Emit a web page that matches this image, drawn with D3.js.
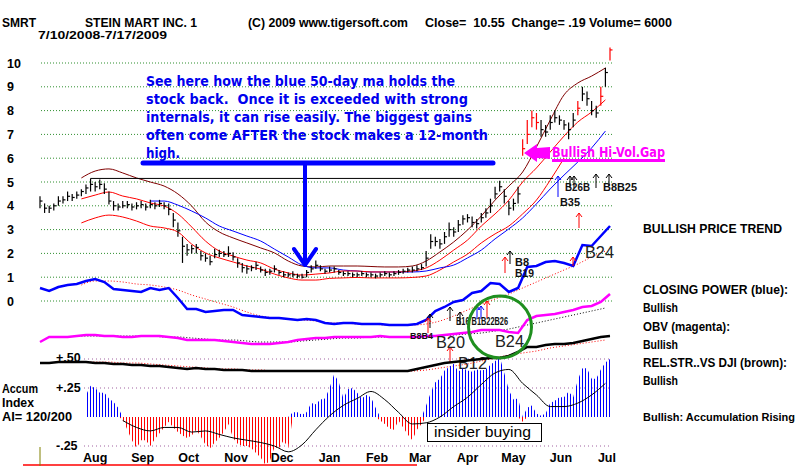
<!DOCTYPE html>
<html>
<head>
<meta charset="utf-8">
<script src="https://cdn.jsdelivr.net/npm/d3@7"></script>
<style>
  body { margin: 0; background: #fff; }
  svg { display: block; font-family: "Liberation Sans", Arial, sans-serif; }
  text { white-space: pre; }
</style>
</head>
<body>
<div id="chart"></div>
<script>
// data
const startDate = "2008-07-10";
const endDate = "2009-07-17";
const barStepDays = 3;   // price bars read every 3 days
const lineStepDays = 9;  // moving averages read every 9 days
const indStepDays = 6;   // indicator lines read every 6 days

const barClose = [4.2,3.9,3.9,4.0,4.2,4.25,4.4,4.35,4.45,4.6, 4.75,4.9,4.8,4.9,4.7,4.2,4.0,3.95,4.0,4.05,
  3.95,4.0,4.05,3.95,4.05,4.0,4.1,4.0,3.85,3.4, 2.95,2.3,2.15,2.2,2.25,1.9,1.8,1.65,1.95,2.0,
  1.95,2.0,1.85,1.6,1.4,1.35,1.4,1.5,1.3,1.2, 1.25,1.35,1.2,1.1,1.1,1.1,1.05,1.0,1.2,1.35,
  1.5,1.35,1.25,1.3,1.35,1.2,1.15,1.15,1.1,1.1, 1.15,1.1,1.1,1.05,1.1,1.15,1.1,1.15,1.2,1.25,
  1.3,1.3,1.35,1.4,1.8,2.5,2.5,2.4,2.7,3.0, 2.9,3.2,3.45,3.5,3.3,3.25,3.5,3.7,4.0,4.5,
  4.8,4.4,3.9,4.1,4.5,6.4,7.0,7.7,7.5,7.2, 7.1,7.5,7.7,7.6,7.4,7.2,7.6,8.1,8.7,8.5,
  8.0,7.9,8.6,9.6,10.55];
const barHigh = [4.4,4.1,4.0,4.1,4.4,4.4,4.6,4.5,4.6,4.7, 4.9,5.15,5.0,5.1,4.95,4.6,4.2,4.1,4.2,4.2,
  4.1,4.15,4.2,4.1,4.25,4.15,4.25,4.15,4.1,3.7, 3.3,2.7,2.4,2.35,2.4,2.1,2.0,1.9,2.2,2.15,
  2.1,2.3,2.05,1.8,1.6,1.5,1.5,1.65,1.45,1.35, 1.35,1.5,1.3,1.25,1.2,1.25,1.15,1.15,1.3,1.5,
  1.7,1.5,1.35,1.45,1.45,1.3,1.25,1.25,1.2,1.2, 1.25,1.2,1.2,1.15,1.2,1.25,1.2,1.25,1.3,1.35,
  1.4,1.45,1.5,1.55,2.1,2.8,2.7,2.6,2.9,3.3, 3.1,3.4,3.6,3.65,3.55,3.45,3.7,3.9,4.3,4.8,
  5.05,4.7,4.2,4.3,4.8,6.8,7.6,8.0,7.9,7.6, 7.4,7.8,8.0,7.8,7.6,7.5,7.9,8.4,9.0,8.8,
  8.4,8.2,9.0,9.8,10.65];
const barLow = [3.9,3.7,3.7,3.8,4.0,4.1,4.2,4.2,4.3,4.4, 4.5,4.6,4.6,4.7,4.5,4.05,3.8,3.8,3.9,3.9,
  3.8,3.85,3.9,3.8,3.9,3.85,3.95,3.85,3.6,3.1, 2.7,1.6,1.9,2.0,2.0,1.7,1.65,1.5,1.8,1.85,
  1.85,1.85,1.7,1.4,1.2,1.15,1.25,1.3,1.2,1.05, 1.1,1.2,1.1,1.0,1.0,1.0,0.95,0.95,1.0,1.2,
  1.35,1.25,1.15,1.2,1.2,1.1,1.05,1.05,1.0,1.0, 1.05,1.0,1.0,0.95,1.0,1.05,1.0,1.05,1.1,1.15,
  1.2,1.2,1.25,1.3,1.45,2.2,2.3,2.2,2.4,2.7, 2.7,2.9,3.2,3.3,3.1,3.05,3.3,3.5,3.7,4.3,
  4.6,4.1,3.6,3.8,4.1,6.1,6.6,7.3,7.2,6.9, 6.9,7.2,7.5,7.4,7.2,6.8,7.3,7.8,8.4,8.2,
  7.8,7.7,8.2,9.0,10.1];
const redBars = [105, 106, 107, 108, 117, 122, 124];

const upperBand = [null,null,null,5.17,5.46,5.55,5.38,5.17,5.0,4.83, 4.5,3.99,3.32,2.9,2.65,2.44,2.23,2.02,1.68,1.47,
  1.43,1.47,1.47,1.47,1.45,1.43,1.43,1.47,1.68,2.06, 2.48,2.98,3.57,4.24,4.83,5.42,6.47,7.6,8.66,9.16, 9.45,9.79];
const ma21 = [null,null,null,4.29,4.45,4.58,4.41,4.29,4.12,3.99, 3.66,3.11,2.52,2.1,1.89,1.72,1.6,1.34,1.18,1.09,
  1.13,1.18,1.26,1.26,1.22,1.22,1.22,1.26,1.39,1.72, 2.14,2.56,3.15,3.66,4.24,5.0,5.59,6.26,6.93,7.52, 7.94,8.45];
const lowerBand = [null,null,null,3.28,3.49,3.61,3.53,3.36,3.15,3.07, 2.9,2.39,2.02,1.81,1.64,1.47,1.34,1.13,0.97,0.88,
  0.88,0.95,0.97,0.99,0.97,0.97,0.97,0.99,1.05,1.3, 1.64,1.97,2.44,2.82,3.15,3.66,4.24,5.08,6.0,null, null,null];
const ma50 = [null,null,null,null,null,null,null,null,4.2,4.2, 4.03,3.78,3.49,3.15,2.94,2.73,2.52,2.18,1.85,1.51,
  1.39,1.39,1.3,1.26,1.22,1.22,1.22,1.22,1.26,1.39, 1.51,1.81,2.14,2.61,3.03,3.49,4.08,4.71,5.29,5.84, 6.43,7.14];
const highLevel = 5.15;
const highFrom = "2008-08-12";
const highTo = "2009-06-10";

const closingPower = [42,39,43,45,46,49,51,48,41,40, 39,38,42,40,42,32,21,21,18,19, 20,20,15,14,13,12,12,11,10,11,
  10,7,6,7,7,6,6,6,5,5, 5,6,10,19,23,28,30,37,39,47, 46,38,42,63,64,68,69,67,64,85, 84,94,104];
const closingPowerMa = [null,null,null,45,49,49,48,46,45,43, 40,35,31,27,23,18,14,12,11,10,
  9,7,7,6,6,5,5,5,6,9, 14,20,26,31,36,42,48,54,60,66, 73,79];
const obv = [8,13,13,13,14,15,15,14,14,13, 13,14,14,14,13,12,10,10,10,10, 9,8,7,6,6,6,7,8,10,11,
  12,12,13,13,13,13,13,14,13,13, 13,13,14,14,15,16,17,18,20,20, 20,18,17,30,34,35,36,38,40,43, 44,48,56];
const obvMa = [null,null,null,14,14,14,14,14,14,13, 13,12,11,10,10,9,8,8,8,9,
  10,11,12,12,13,13,13,13,13,14, 15,16,17,19,21,24,27,30,33,36, 39,42];
const relStrength = [12,12,13,13,13,13,12,12,11,11, 10,10,9,9,8,7,6,7,6,6, 5,5,5,4,4,4,4,4,4,4,
  4,4,4,4,4,4,4,4,4,4, 4,6,8,10,12,13,14,15,16,17, 17,19,23,28,28,30,31,31,32,34, 36,38,39];
const relStrengthMa = [null,null,null,13,13,13,12,12,11,10, 9,8,7,6,6,5,5,4,4,4,
  4,4,4,4,4,4,4,4,5,7, 9,11,14,17,20,22,24,27,29,31, 33,35];
const accumIndex = [null,null,null,null,null,null,null,null,null,null,
  .19,.27,.25,.21,.21,.16,.13,.08,-.02,-.11, -.2,-.27,-.2,-.2,-.25,-.19,-.14,-.09,-.04,-.09,
  -.13,-.16,-.18,-.16,-.11,-.17,-.24,-.27,-.22,-.18, -.13,-.06,-.18,-.23,-.25,-.25,-.27,-.31,-.35,-.41,
  -.38,-.26,-.27,-.2,-.27,.04,.04,.02,.04,.12, .11,.15,.16,.25,.37,.3,.16,.24,.25,.21,
  .16,.19,.17,.08,-.03,-.06,-.1,-.11,-.03,-.09, -.15,-.2,-.11,-.06,.1,.21,.3,.33,.4,.43,
  .46,.39,.42,.4,.39,.41,.4,.41,.45,.48, .52,.38,.23,.15,.16,-.04,.08,.1,.03,.01,
  .03,.12,.14,.17,.17,.22,.17,.32,.42,.42, .33,.33,.41,.47,.5];
const accumMa = [null,null,null,null,null,null,-.03,-.09,-.12,-.09, -.09,-.13,-.12,-.15,-.18,-.2,-.22,-.25,-.3,-.24,
  -.11,.01,.1,.16,.22,.15,.04,-.06,-.05,0, .09,.17,.28,.38,.41,.29,.19,.09,.09,.12, .19,.29];

const priceTicks = [0,1,2,3,4,5,6,7,8,9,10];
const accumTicks = [0.5, 0.25, -0.25];
const accumTickLabels = ["+.50", "+.25", "-.25"];
const monthLabels = ["Aug","Sep","Oct","Nov","Dec","Jan","Feb","Mar","Apr","May","Jun","Jul"];
const monthDates = ["2008-08-15","2008-09-15","2008-10-15","2008-11-15","2008-12-15","2009-01-15",
  "2009-02-15","2009-03-15","2009-04-15","2009-05-15","2009-06-15","2009-07-15"];

// svg container
const svgWidth = 800;
const svgHeight = 466;
const svg = d3.select("#chart").append("svg")
    .attr("width", svgWidth)
    .attr("height", svgHeight);
svg.append("rect").attr("width", svgWidth).attr("height", svgHeight).attr("fill", "#fff");

const parse = d3.timeParse("%Y-%m-%d");
const t0 = parse(startDate);
const barDates = barClose.map((d, i) => d3.timeDay.offset(t0, i * barStepDays));
const lineDates = upperBand.map((d, i) => d3.timeDay.offset(t0, i * lineStepDays));
const indDates = closingPower.map((d, i) => d3.timeDay.offset(t0, i * indStepDays));

// scales
const x = d3.scaleTime().domain([t0, parse(endDate)]).range([40, 610]);
const yPrice = d3.scaleLinear().domain([0, 10]).range([301, 63]);
const yCP = d3.scaleLinear().domain([0, 100]).range([330, 230]);
const yOBV = d3.scaleLinear().domain([0, 100]).range([350, 250]);
const yRS = d3.scaleLinear().domain([0, 100]).range([375, 275]);
const yAcc = d3.scaleLinear().domain([-0.5, 0.5]).range([475, 359]);

// hatch patterns for the accumulation index
const defs = svg.append("defs");
[["hatchBlue", "#0000ff"], ["hatchRed", "#ff0000"]].forEach(([id, c]) => {
  const p = defs.append("pattern").attr("id", id).attr("width", 3).attr("height", 20)
      .attr("patternUnits", "userSpaceOnUse");
  p.append("rect").attr("x", 0).attr("width", 1).attr("height", 20).attr("fill", c);
});

// price grid
svg.append("g").selectAll("line")
    .data(priceTicks)
    .enter()
    .append("line")
    .attr("x1", 41).attr("x2", 612)
    .attr("y1", d => yPrice(d)).attr("y2", d => yPrice(d))
    .attr("stroke", "#2f8f2f")
    .attr("stroke-dasharray", "1,2");

svg.append("g").selectAll("text")
    .data(priceTicks)
    .enter()
    .append("text")
    .attr("x", 7)
    .attr("y", d => yPrice(d) + 4.5)
    .attr("font-size", 12.5).attr("font-weight", "bold")
    .text(d => d);

// accumulation grid
svg.append("g").selectAll("line")
    .data(accumTicks)
    .enter()
    .append("line")
    .attr("x1", 84).attr("x2", 612)
    .attr("y1", d => yAcc(d)).attr("y2", d => yAcc(d))
    .attr("stroke", "#a060a0")
    .attr("stroke-dasharray", "1,3");

// annotation text
const noteLines = ["See here how the blue 50-day ma holds the",
  "stock back.  Once it is exceeded with strong",
  "internals, it can rise easily. The biggest gains",
  "often come AFTER the stock makes a 12-month",
  "high."];
const noteWidths = [309, 322, 326, 342, 34];
svg.append("g").selectAll("text")
    .data(noteLines)
    .enter()
    .append("text")
    .attr("x", 146)
    .attr("y", (d, i) => 86 + i * 17.9)
    .attr("font-family", "DejaVu Sans, Verdana, sans-serif")
    .attr("font-size", 13.5).attr("font-weight", "bold")
    .attr("fill", "#0000ee")
    .attr("textLength", (d, i) => noteWidths[i])
    .attr("lengthAdjust", "spacingAndGlyphs")
    .text(d => d);

// line helper
function drawLine(dates, vals, yS, color, width, dash, curve) {
  const gen = d3.line()
      .defined(d => d.v != null)
      .x(d => x(d.date))
      .y(d => yS(d.v))
      .curve(curve || d3.curveLinear);
  svg.append("path")
      .datum(vals.map((v, i) => ({ date: dates[i], v: v })))
      .attr("d", gen)
      .attr("fill", "none")
      .attr("stroke", color)
      .attr("stroke-width", width)
      .attr("stroke-dasharray", dash || null);
}

// moving averages and bands
drawLine(lineDates, upperBand, yPrice, "#800000", 1, null, d3.curveMonotoneX);
drawLine(lineDates, lowerBand, yPrice, "#ff0000", 1, null, d3.curveMonotoneX);
drawLine(lineDates, ma50, yPrice, "#0000ff", 1, null, d3.curveMonotoneX);
drawLine(lineDates, ma21, yPrice, "#ff0000", 1, null, d3.curveMonotoneX);

// 12-month high line
svg.append("line")
    .attr("x1", x(parse(highFrom))).attr("x2", x(parse(highTo)))
    .attr("y1", yPrice(highLevel)).attr("y2", yPrice(highLevel))
    .attr("stroke", "#000").attr("stroke-width", 1);

// price bars
const bars = svg.append("g").selectAll("g")
    .data(barClose.map((c, i) => ({ date: barDates[i], c: c, h: barHigh[i], l: barLow[i], red: redBars.includes(i) })))
    .enter()
    .append("g")
    .attr("stroke", d => d.red ? "#ff0000" : "#000")
    .attr("stroke-width", 1.2);
bars.append("line")
    .attr("x1", d => x(d.date)).attr("x2", d => x(d.date))
    .attr("y1", d => yPrice(d.h)).attr("y2", d => yPrice(d.l));
bars.append("line")
    .attr("x1", d => x(d.date)).attr("x2", d => x(d.date) + 2.5)
    .attr("y1", d => yPrice(d.c)).attr("y2", d => yPrice(d.c));

// indicator lines
drawLine(lineDates, closingPowerMa, yCP, "#ff0000", 1, "1,2", d3.curveMonotoneX);
drawLine(indDates, closingPower, yCP, "#0000ff", 2.5);
drawLine(lineDates, obvMa, yOBV, "#000", 1, "1,2", d3.curveMonotoneX);
drawLine(indDates, obv, yOBV, "#ff00ff", 2.5);

// "+.50" label under the relative strength line
svg.append("text").attr("x", 56).attr("y", 362)
    .attr("font-size", 12.5).attr("font-weight", "bold").text(accumTickLabels[0]);

// annotation arrow
svg.append("line").attr("x1", 143).attr("x2", 493).attr("y1", 163).attr("y2", 163)
    .attr("stroke", "#0000ff").attr("stroke-width", 5).attr("stroke-linecap", "round");
svg.append("path").attr("d", "M305,163 V265 M294,249 L305,265 L316,249")
    .attr("fill", "none").attr("stroke", "#0000ff").attr("stroke-width", 4)
    .attr("stroke-linejoin", "round").attr("stroke-linecap", "round");

// signal arrows
function upArrow(px, yTop, yBot, color) {
  svg.append("path")
      .attr("d", `M${px},${yBot} V${yTop} M${px - 3},${yTop + 4} L${px},${yTop} L${px + 3},${yTop + 4}`)
      .attr("fill", "none").attr("stroke", color).attr("stroke-width", 1);
}
upArrow(570, 176, 188, "#000");
upArrow(574, 176, 188, "#000");
upArrow(596, 174, 188, "#000");
upArrow(609, 174, 186, "#000");
upArrow(558, 176, 197, "#0000ff");
upArrow(579, 213, 228, "#ff0000");
upArrow(510, 251, 264, "#000");
upArrow(505, 257, 273, "#ff0000");
upArrow(573, 257, 266, "#ff0000");
upArrow(430, 314, 328, "#000");
upArrow(450, 307, 321, "#000");
upArrow(460, 312, 325, "#000");
upArrow(477, 306, 319, "#0000ff");
upArrow(481, 306, 319, "#0000ff");
upArrow(428, 318, 333, "#ff0000");
upArrow(487, 301, 318, "#ff0000");
upArrow(450, 347, 363, "#ff0000");

// signal labels
const smallSig = [["B26B", 565, 191, 25, 11.5], ["B35", 560, 206, 20, 11.5], ["B8B25", 603, 191, 34, 11.5],
  ["B8", 515, 266, 14, 11.5], ["B19", 515, 277, 19, 11.5], ["B16 B1B22B26", 456, 325, 52, 11.5],
  ["B8B4", 410, 339, 23, 9.5]];
svg.append("g").selectAll("text")
    .data(smallSig)
    .enter()
    .append("text")
    .attr("x", d => d[1]).attr("y", d => d[2])
    .attr("font-size", d => d[4]).attr("font-weight", "bold").attr("fill", "#111")
    .attr("textLength", d => d[3]).attr("lengthAdjust", "spacingAndGlyphs")
    .text(d => d[0]);

const bigSig = [["B24", 585, 258], ["B20", 436, 348], ["B24", 495, 347], ["B12", 458, 369]];
svg.append("g").selectAll("text")
    .data(bigSig)
    .enter()
    .append("text")
    .attr("x", d => d[1]).attr("y", d => d[2])
    .attr("font-size", 17).attr("fill", "#222")
    .attr("textLength", 29).attr("lengthAdjust", "spacingAndGlyphs")
    .text(d => d[0]);

// relative strength
drawLine(lineDates, relStrengthMa, yRS, "#ff0000", 1, "1,2", d3.curveMonotoneX);
drawLine(indDates, relStrength, yRS, "#000", 2.5);

// accumulation index
const accPts = accumIndex.map((v, i) => ({ date: barDates[i], v: v }));
svg.append("path").datum(accPts)
    .attr("d", d3.area().defined(d => d.v != null).x(d => x(d.date))
        .y0(yAcc(0)).y1(d => yAcc(Math.max(0, d.v))))
    .attr("fill", "url(#hatchBlue)");
svg.append("path").datum(accPts)
    .attr("d", d3.area().defined(d => d.v != null).x(d => x(d.date))
        .y0(yAcc(0)).y1(d => yAcc(Math.min(0, d.v))))
    .attr("fill", "url(#hatchRed)");
drawLine(lineDates, accumMa, yAcc, "#000", 1, null, d3.curveMonotoneX);

svg.append("g").selectAll("text")
    .data(accumTicks.slice(1))
    .enter()
    .append("text")
    .attr("x", 56).attr("y", d => yAcc(d) + 4)
    .attr("font-size", 12.5).attr("font-weight", "bold")
    .text((d, i) => accumTickLabels[i + 1]);

// green circle
svg.append("ellipse").attr("cx", 500).attr("cy", 327).attr("rx", 31.5).attr("ry", 31)
    .attr("fill", "none").attr("stroke", "#1f8f1f").attr("stroke-width", 3);

// insider buying box
svg.append("rect").attr("x", 427.5).attr("y", 423.5).attr("width", 114).attr("height", 18)
    .attr("fill", "#fff").attr("stroke", "#000").attr("stroke-width", 1);
svg.append("text").attr("x", 434).attr("y", 437).attr("font-size", 14)
    .attr("textLength", 97).attr("lengthAdjust", "spacingAndGlyphs").text("insider buying");

// hi-vol gap annotation
svg.append("path")
    .attr("d", "M524,153 L537,144 L537,148 L550,147 L550,159 L537,158 L537,162 Z")
    .attr("fill", "#ff00ff");
svg.append("text").attr("x", 552).attr("y", 157)
    .attr("font-family", "DejaVu Sans, Verdana, sans-serif")
    .attr("font-size", 13.5).attr("font-weight", "bold").attr("fill", "#ff00ff")
    .attr("textLength", 113).attr("lengthAdjust", "spacingAndGlyphs")
    .text("Bullish Hi-Vol.Gap");
svg.append("rect").attr("x", 552).attr("y", 159).attr("width", 113).attr("height", 3).attr("fill", "#ff00ff");

// month labels
svg.append("g").selectAll("text")
    .data(monthLabels)
    .enter()
    .append("text")
    .attr("x", (d, i) => x(parse(monthDates[i])))
    .attr("y", 462)
    .attr("text-anchor", "middle")
    .attr("font-size", 12.5).attr("font-weight", "bold")
    .text(d => d);

// frame bits at the bottom
svg.append("line").attr("x1", 23).attr("x2", 417).attr("y1", 465).attr("y2", 465)
    .attr("stroke", "#ff0000").attr("stroke-width", 1.5);
svg.append("line").attr("x1", 40).attr("x2", 40).attr("y1", 447).attr("y2", 466)
    .attr("stroke", "#808000").attr("stroke-width", 1);

// header
const header = [["SMRT", 2, 27, 34, 12.5], ["STEIN MART INC. 1", 85, 27, 112, 12.5],
  ["(C) 2009 www.tigersoft.com", 248, 27, 160, 12.5],
  ["Close=  10.55  Change= .19 Volume= 6000", 425, 27, 247, 12.5], ["7/10/2008-7/17/2009", 38, 38.5, 129, 11.5]];
// side labels
const side = [["BULLISH PRICE TREND", 643, 233, 139, 12.5], ["CLOSING POWER (blue):", 643, 294, 145, 12.5],
  ["Bullish", 643, 312, 35, 12.5], ["OBV (magenta):", 643, 331, 87, 12.5], ["Bullish", 643, 349, 35, 12.5],
  ["REL.STR..VS DJI (brown):", 643, 367, 144, 12.5], ["Bullish", 643, 385, 35, 12.5],
  ["Bullish: Accumulation Rising", 643, 421, 152, 11],
  ["Accum", 2, 393, 36, 12.5], ["Index", 2, 407, 32, 12.5], ["AI= 120/200", 2, 421, 70, 12.5]];
svg.append("g").selectAll("text")
    .data(header.concat(side))
    .enter()
    .append("text")
    .attr("x", d => d[1]).attr("y", d => d[2])
    .attr("font-size", d => d[4]).attr("font-weight", "bold")
    .attr("textLength", d => d[3]).attr("lengthAdjust", "spacingAndGlyphs")
    .text(d => d[0]);
</script>
</body>
</html>
